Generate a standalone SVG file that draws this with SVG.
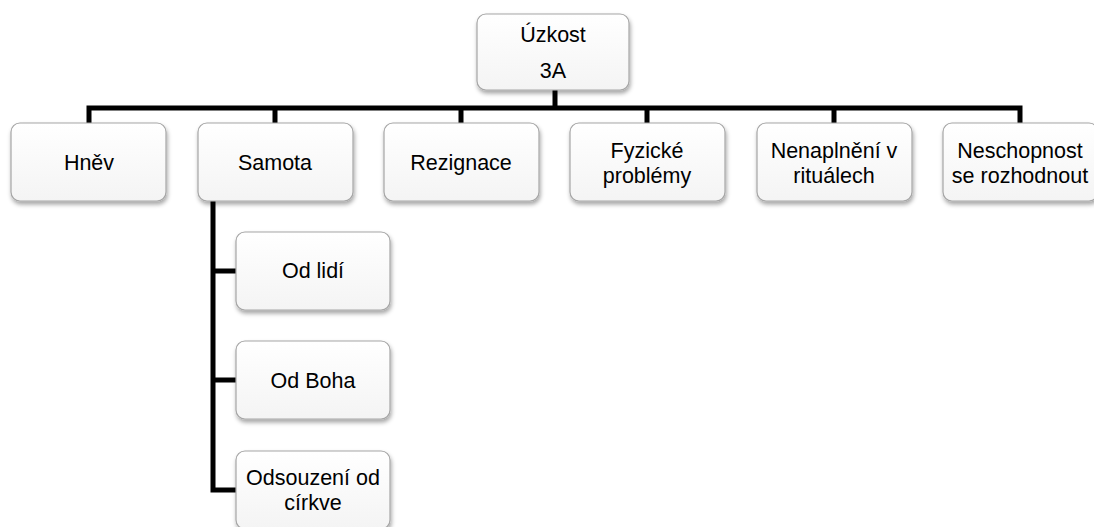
<svg xmlns="http://www.w3.org/2000/svg" width="1094" height="527" viewBox="0 0 1094 527">
<style>
.box{fill:url(#g);stroke:#a6a6a6;stroke-width:1.2;filter:url(#sh)}
.t{font-family:"Liberation Sans",Arial,sans-serif;font-size:21.5px;fill:#000;text-anchor:middle}
.c{fill:none;stroke:#000;stroke-width:5;stroke-linejoin:miter}
</style>
<defs>
<linearGradient id="g" x1="0" y1="0" x2="0" y2="1">
<stop offset="0" stop-color="#ffffff"/>
<stop offset="1" stop-color="#f4f4f4"/>
</linearGradient>
<filter id="sh" x="-10%" y="-10%" width="125%" height="130%">
<feDropShadow dx="1" dy="3" stdDeviation="2" flood-color="#000" flood-opacity="0.35"/>
</filter>
</defs>
<rect width="1094" height="527" fill="#fff"/>
<g id="connectors">
<path class="c" d="M555 90 V108"/>
<path class="c" d="M89 123 V108 H1020 V123"/>
<path class="c" d="M275 108 V123 M461 108 V123 M647 108 V123 M834 108 V123"/>
<path class="c" d="M213 201 V490 H236 M213 271 H236 M213 380 H236"/>
</g>
<g id="n-uzkost"><rect class="box" x="477" y="14" width="152" height="76" rx="9"/><text class="t" x="553" y="42">Úzkost</text><text class="t" x="553" y="78">3A</text></g>
<g id="n-hnev"><rect class="box" x="11" y="123" width="155" height="78" rx="9"/><text class="t" x="89" y="170">Hněv</text></g>
<g id="n-samota"><rect class="box" x="198" y="123" width="155" height="78" rx="9"/><text class="t" x="275" y="170">Samota</text></g>
<g id="n-rezignace"><rect class="box" x="384" y="123" width="155" height="78" rx="9"/><text class="t" x="461" y="170">Rezignace</text></g>
<g id="n-fyzicke"><rect class="box" x="570" y="123" width="155" height="78" rx="9"/><text class="t" x="647" y="158">Fyzické</text><text class="t" x="647" y="183">problémy</text></g>
<g id="n-nenaplneni"><rect class="box" x="757" y="123" width="155" height="78" rx="9"/><text class="t" x="834" y="158">Nenaplnění v</text><text class="t" x="834" y="183">rituálech</text></g>
<g id="n-neschopnost"><rect class="box" x="943" y="123" width="155" height="78" rx="9"/><text class="t" x="1020" y="158">Neschopnost</text><text class="t" x="1020" y="183">se rozhodnout</text></g>
<g id="n-odlidi"><rect class="box" x="236" y="232" width="154" height="78" rx="9"/><text class="t" x="313" y="278">Od lidí</text></g>
<g id="n-odboha"><rect class="box" x="236" y="341" width="154" height="78" rx="9"/><text class="t" x="313" y="388">Od Boha</text></g>
<g id="n-odsouzeni"><rect class="box" x="236" y="451" width="154" height="78" rx="9"/><text class="t" x="313" y="485">Odsouzení od</text><text class="t" x="313" y="510">církve</text></g>
</svg>
